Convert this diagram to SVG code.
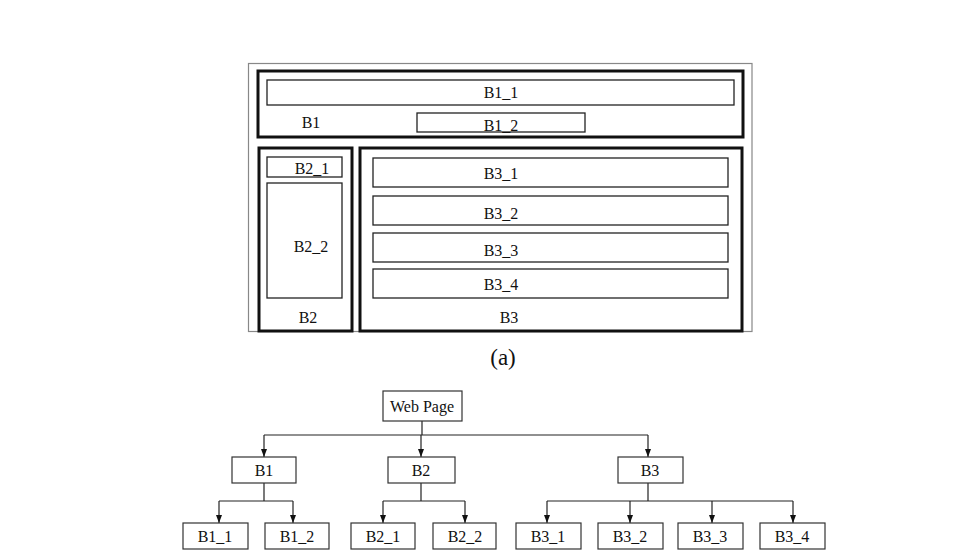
<svg xmlns="http://www.w3.org/2000/svg" width="972" height="560" viewBox="0 0 972 560">
<defs>
<marker id="arr" viewBox="0 0 8 6" refX="8" refY="3" markerWidth="8" markerHeight="6" markerUnits="userSpaceOnUse" orient="auto">
<path d="M0,0 L8,3 L0,6 Z" fill="#111"/>
</marker>
<style>
text{font-family:"Liberation Serif","Times New Roman",serif;font-size:16px;fill:#111;text-anchor:middle;dominant-baseline:central}
.frame{fill:none;stroke:#888;stroke-width:1.2}
.thick{fill:none;stroke:#111;stroke-width:3}
.thin{fill:none;stroke:#222;stroke-width:1.3}
.box{fill:#fff;stroke:#333;stroke-width:1.2}
.conn{fill:none;stroke:#222;stroke-width:1.2}
</style>
</defs>
<rect width="972" height="560" fill="#fff"/>
<g id="layout">
<rect class="frame" x="248.5" y="63.5" width="503.5" height="268"/>
<g id="B1"><rect class="thick" x="258" y="71" width="485" height="66"/><text x="311" y="122">B1</text></g>
<g id="B1_1"><rect class="thin" x="267" y="80" width="467" height="25"/><text x="501" y="92">B1_1</text></g>
<g id="B1_2"><rect class="thin" x="417" y="113" width="168" height="19"/><text x="501" y="125">B1_2</text></g>
<g id="B2"><rect class="thick" x="259" y="148" width="93" height="183"/><text x="308" y="317">B2</text></g>
<g id="B2_1"><rect class="thin" x="267" y="157" width="75" height="20"/><text x="312" y="168">B2_1</text></g>
<g id="B2_2"><rect class="thin" x="267" y="183" width="75" height="115"/><text x="311" y="246">B2_2</text></g>
<g id="B3"><rect class="thick" x="360" y="148" width="382" height="183"/><text x="509" y="317">B3</text></g>
<g id="B3_1"><rect class="thin" x="373" y="158" width="355" height="29"/><text x="501" y="173">B3_1</text></g>
<g id="B3_2"><rect class="thin" x="373" y="196" width="355" height="29"/><text x="501" y="213">B3_2</text></g>
<g id="B3_3"><rect class="thin" x="373" y="233" width="355" height="29"/><text x="501" y="250">B3_3</text></g>
<g id="B3_4"><rect class="thin" x="373" y="269" width="355" height="29"/><text x="501" y="284">B3_4</text></g>
<text x="503" y="357" style="font-size:23px">(a)</text>
</g>
<g id="connectors">
<path class="conn" d="M422,421 V435"/>
<path class="conn" d="M264,435 H648"/>
<path class="conn" d="M264,435 V457" marker-end="url(#arr)"/>
<path class="conn" d="M421,435 V457" marker-end="url(#arr)"/>
<path class="conn" d="M648,435 V457" marker-end="url(#arr)"/>
<path class="conn" d="M264,483 V501 M219,501 H293"/>
<path class="conn" d="M219,501 V523" marker-end="url(#arr)"/>
<path class="conn" d="M293,501 V523" marker-end="url(#arr)"/>
<path class="conn" d="M421,483 V501 M383,501 H465"/>
<path class="conn" d="M383,501 V523" marker-end="url(#arr)"/>
<path class="conn" d="M465,501 V523" marker-end="url(#arr)"/>
<path class="conn" d="M648,483 V501 M547,501 H793"/>
<path class="conn" d="M547,501 V523" marker-end="url(#arr)"/>
<path class="conn" d="M630,501 V523" marker-end="url(#arr)"/>
<path class="conn" d="M712,501 V523" marker-end="url(#arr)"/>
<path class="conn" d="M793,501 V523" marker-end="url(#arr)"/>
</g>
<g id="t_web"><rect class="box" x="383" y="391" width="79" height="30"/><text x="422" y="406">Web Page</text></g>
<g id="t_B1"><rect class="box" x="232" y="457" width="64" height="26"/><text x="264" y="470">B1</text></g>
<g id="t_B2"><rect class="box" x="388" y="457" width="67" height="26"/><text x="421" y="470">B2</text></g>
<g id="t_B3"><rect class="box" x="618" y="457" width="65" height="26"/><text x="650" y="470">B3</text></g>
<g id="t_B1_1"><rect class="box" x="183" y="523" width="65" height="26"/><text x="215" y="536">B1_1</text></g>
<g id="t_B1_2"><rect class="box" x="265" y="523" width="64" height="26"/><text x="297" y="536">B1_2</text></g>
<g id="t_B2_1"><rect class="box" x="351" y="523" width="64" height="26"/><text x="383" y="536">B2_1</text></g>
<g id="t_B2_2"><rect class="box" x="433" y="523" width="63" height="26"/><text x="465" y="536">B2_2</text></g>
<g id="t_B3_1"><rect class="box" x="516" y="523" width="65" height="26"/><text x="548" y="536">B3_1</text></g>
<g id="t_B3_2"><rect class="box" x="598" y="523" width="65" height="26"/><text x="630" y="536">B3_2</text></g>
<g id="t_B3_3"><rect class="box" x="678" y="523" width="65" height="26"/><text x="710" y="536">B3_3</text></g>
<g id="t_B3_4"><rect class="box" x="760" y="523" width="65" height="26"/><text x="792" y="536">B3_4</text></g>
</svg>
